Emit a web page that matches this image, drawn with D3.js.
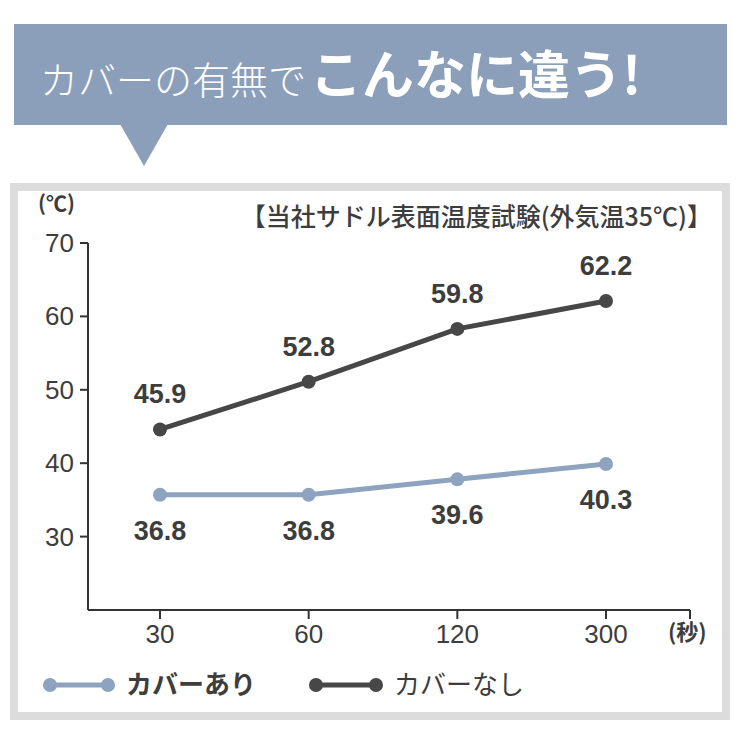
<!DOCTYPE html><html><head><meta charset="utf-8"><script src="https://cdn.jsdelivr.net/npm/d3@7"></script>
<style>body{margin:0;background:#fff}</style></head><body><svg id="c" width="740" height="740"></svg>
<script>
const categories=["30","60","120","300"];
const yTicks=[30,40,50,60,70];
const withCoverLabels=[36.8,36.8,39.6,40.3];
const withCoverPlotted=[35.7,35.7,37.8,39.9];
const noCoverLabels=[45.9,52.8,59.8,62.2];
const noCoverPlotted=[44.6,51.1,58.3,62.1];
const F="'Noto Sans CJK JP','Noto Sans',sans-serif";
const N="'Liberation Sans',Arial,sans-serif";
const svg=d3.select("#c");
const light="#8ea3c0",dark="#474747",txt="#3d3d3d";
svg.append("rect").attr("x",14).attr("y",24).attr("width",713).attr("height",101).attr("fill","#8b9fbb");
svg.append("path").attr("d","M120,124 L168,124 L144,166 Z").attr("fill","#8b9fbb");
const t=svg.append("text").attr("x",40).attr("y",94).attr("fill","#fff").attr("font-family",F);
t.append("tspan").attr("font-size",38).attr("font-weight",300).text("カバーの有無で");
t.append("tspan").attr("font-size",52).attr("font-weight",700).attr("dx",4).text("こんなに違う!");
svg.append("rect").attr("x",14).attr("y",187).attr("width",712).attr("height",529).attr("fill","#fff").attr("stroke","#dcdcdc").attr("stroke-width",8);
const x=d3.scalePoint().domain(categories).range([160,606]);
const y=d3.scaleLinear().domain([20,70]).range([610,243]);
const g=svg.append("g");
g.append("line").attr("x1",88).attr("x2",690).attr("y1",610).attr("y2",610).attr("stroke","#333").attr("stroke-width",2);
g.append("line").attr("x1",88).attr("x2",88).attr("y1",243).attr("y2",610).attr("stroke","#333").attr("stroke-width",2);
yTicks.forEach(v=>{g.append("line").attr("x1",80).attr("x2",88).attr("y1",y(v)).attr("y2",y(v)).attr("stroke","#333").attr("stroke-width",2);
 g.append("text").attr("x",74).attr("y",y(v)+9).attr("text-anchor","end").attr("font-size",26).attr("fill",txt).attr("font-family",N).text(v);});
categories.concat(["end"]).forEach(c=>{const xx=c==="end"?690:x(c);g.append("line").attr("x1",xx).attr("x2",xx).attr("y1",610).attr("y2",619).attr("stroke","#333").attr("stroke-width",2);
 if(c!=="end")g.append("text").attr("x",xx).attr("y",643).attr("text-anchor","middle").attr("font-size",26).attr("fill",txt).attr("font-family",N).text(c);});
g.append("text").attr("x",668).attr("y",640).attr("font-size",22).attr("fill",txt).attr("font-family",F).attr("font-weight",700).text("(秒)");
g.append("text").attr("x",38).attr("y",211).attr("font-size",21).attr("fill",txt).attr("font-family",F).attr("font-weight",700).text("(℃)");
g.append("text").attr("x",712).attr("y",226).attr("text-anchor","end").attr("font-size",25).attr("fill",txt).attr("font-family",F).attr("font-weight",500).text("【当社サドル表面温度試験(外気温35℃)】");
const line=d3.line().x((d,i)=>x(categories[i])).y(d=>y(d));
function series(vals,labels,col,above){
 svg.append("path").attr("d",line(vals)).attr("fill","none").attr("stroke",col).attr("stroke-width",5);
 vals.forEach((v,i)=>{svg.append("circle").attr("cx",x(categories[i])).attr("cy",y(v)).attr("r",7).attr("fill",col);
  svg.append("text").attr("x",x(categories[i])).attr("y",above?y(v)-26:y(v)+45).attr("text-anchor","middle").attr("font-size",27).attr("fill",txt).attr("font-family",N).attr("font-weight",700).text(labels[i].toFixed(1));});
}
series(noCoverPlotted,noCoverLabels,dark,true);
series(withCoverPlotted,withCoverLabels,light,false);
function leg(x1,x2,col,label,bold){svg.append("line").attr("x1",x1).attr("x2",x2).attr("y1",685).attr("y2",685).attr("stroke",col).attr("stroke-width",5);
 [x1,x2].forEach(xx=>svg.append("circle").attr("cx",xx).attr("cy",685).attr("r",7).attr("fill",col));
 svg.append("text").attr("x",x2+18).attr("y",694).attr("font-size",26).attr("fill",txt).attr("font-family",F).attr("font-weight",bold?700:400).text(label);}
leg(50,108,light,"カバーあり",true);
leg(316,376,dark,"カバーなし",false);
</script></body></html>
